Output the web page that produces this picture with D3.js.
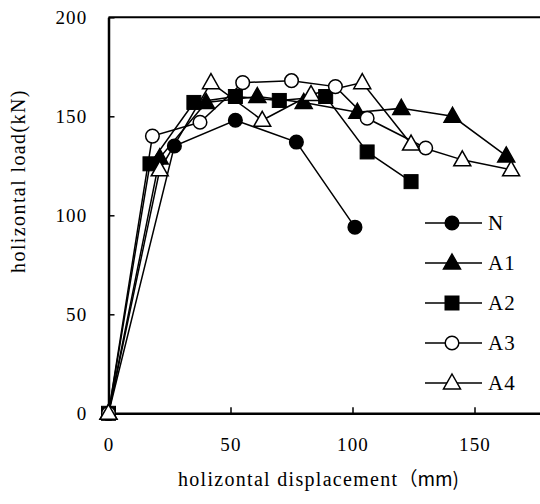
<!DOCTYPE html>
<html>
<head>
<meta charset="utf-8">
<script src="https://cdn.jsdelivr.net/npm/d3@7"></script>
<style>
  html, body { margin: 0; padding: 0; background: #fff; }
  svg { display: block; }
  text { font-family: "Liberation Serif", "DejaVu Serif", serif; fill: #000; }
</style>
</head>
<body>
<div id="chart"></div>
<script>
// displacement (mm) / load (kN) per specimen
var seriesNames = ['N', 'A1', 'A2', 'A3', 'A4'];
var dispN  = [0, 27, 52, 77, 101];
var loadN  = [0, 135, 148, 137, 94];
var dispA1 = [0, 21, 40, 61, 80, 102, 120, 141, 163];
var loadA1 = [0, 129, 157, 160, 157, 152, 154, 150, 130];
var dispA2 = [0, 17, 35, 52, 70, 89, 106, 124];
var loadA2 = [0, 126, 157, 160, 158, 160, 132, 117];
var dispA3 = [0, 18, 37.5, 55, 75, 93, 106, 130];
var loadA3 = [0, 140, 147, 167, 168, 165, 149, 134];
var dispA4 = [0, 21, 42, 63, 83, 104, 124, 145, 165];
var loadA4 = [0, 123, 167, 148, 161, 167, 136, 128, 123];
var xTicks = [0, 50, 100, 150];
var yTicks = [0, 50, 100, 150, 200];

(function () {
    var width = 540, height = 504;
    var left = 108.5, top = 17.3, bottom = 413.3;

    var svg = d3.select('#chart').append('svg')
        .attr('width', width)
        .attr('height', height);

    var x = d3.scaleLinear().domain([0, 180]).range([left, left + 180 * 2.44]);
    var y = d3.scaleLinear().domain([0, 200]).range([bottom, top]);

    // frame top
    svg.append('line')
        .attr('x1', x(0)).attr('x2', x(180))
        .attr('y1', y(200)).attr('y2', y(200))
        .attr('stroke', '#000').attr('stroke-width', 2);

    // axes, ticks point inward
    var xAxis = svg.append('g')
        .attr('transform', 'translate(0,' + y(0) + ')')
        .call(d3.axisBottom(x).tickValues(xTicks).tickSizeInner(-6).tickSizeOuter(0).tickPadding(0));
    var yAxis = svg.append('g')
        .attr('transform', 'translate(' + x(0) + ',0)')
        .call(d3.axisLeft(y).tickValues(yTicks).tickSizeInner(-6).tickSizeOuter(0).tickPadding(0));

    [xAxis, yAxis].forEach(function (ax) {
        ax.select('.domain').attr('stroke', '#000').attr('stroke-width', 2.5);
        ax.selectAll('.tick line').attr('stroke', '#000').attr('stroke-width', 1.5);
        ax.selectAll('.tick text')
            .attr('font-family', '"Liberation Serif", serif')
            .attr('font-size', 19)
            .attr('letter-spacing', 1.2)
            .attr('fill', '#000');
    });
    xAxis.selectAll('.tick text').attr('dy', null).attr('y', 38);
    yAxis.selectAll('.tick text').attr('x', -21).attr('dy', '0.33em');

    // axis titles
    var xt = svg.append('text')
        .attr('x', 178).attr('y', 486)
        .attr('font-size', 20)
        .attr('letter-spacing', 1.3);
    xt.append('tspan').text('holizontal displacement');
    xt.append('tspan')
        .attr('font-family', '"Noto Sans CJK JP", sans-serif')
        .attr('font-size', 19)
        .attr('letter-spacing', 0)
        .text('（mm)');

    svg.append('text')
        .attr('transform', 'translate(25,181) rotate(-90)')
        .attr('text-anchor', 'middle')
        .attr('font-size', 20)
        .attr('letter-spacing', 1.4)
        .text('holizontal load(kN)');

    var series = [
        { name: seriesNames[0], xs: dispN,  ys: loadN,  shape: 'circle',   fill: '#000' },
        { name: seriesNames[1], xs: dispA1, ys: loadA1, shape: 'triangle', fill: '#000' },
        { name: seriesNames[2], xs: dispA2, ys: loadA2, shape: 'square',   fill: '#000' },
        { name: seriesNames[3], xs: dispA3, ys: loadA3, shape: 'circle',   fill: '#fff' },
        { name: seriesNames[4], xs: dispA4, ys: loadA4, shape: 'triangle', fill: '#fff' }
    ];

    function marker(g, s) {
        if (s.shape === 'circle') {
            g.append('circle').attr('r', 6.8)
                .attr('fill', s.fill).attr('stroke', '#000').attr('stroke-width', 1.5);
        } else if (s.shape === 'square') {
            g.append('rect').attr('x', -7).attr('y', -7).attr('width', 14).attr('height', 14)
                .attr('fill', s.fill).attr('stroke', '#000').attr('stroke-width', 1);
        } else {
            g.append('path').attr('d', 'M0,-9L8.5,6L-8.5,6Z')
                .attr('fill', s.fill).attr('stroke', '#000').attr('stroke-width', 1.5);
        }
    }

    var line = d3.line().x(function (d) { return x(d[0]); }).y(function (d) { return y(d[1]); });

    series.forEach(function (s) {
        var pts = s.xs.map(function (v, i) { return [v, s.ys[i]]; });
        svg.append('path')
            .attr('d', line(pts))
            .attr('fill', 'none')
            .attr('stroke', '#000')
            .attr('stroke-width', 1.5);
    });
    series.forEach(function (s) {
        var pts = s.xs.map(function (v, i) { return [v, s.ys[i]]; });
        pts.forEach(function (p) {
            var g = svg.append('g').attr('transform', 'translate(' + x(p[0]) + ',' + y(p[1]) + ')');
            marker(g, s);
        });
    });

    // legend
    var legY = d3.scalePoint().domain(seriesNames).range([223, 383]);
    series.forEach(function (s) {
        var ly = legY(s.name);
        svg.append('line')
            .attr('x1', 425).attr('x2', 482).attr('y1', ly).attr('y2', ly)
            .attr('stroke', '#000').attr('stroke-width', 1.5);
        var g = svg.append('g').attr('transform', 'translate(452,' + ly + ')');
        marker(g, s);
        svg.append('text')
            .attr('x', 488).attr('y', ly).attr('dy', '0.35em')
            .attr('font-size', 21)
            .attr('letter-spacing', 1)
            .text(s.name);
    });
})();
</script>
</body>
</html>
